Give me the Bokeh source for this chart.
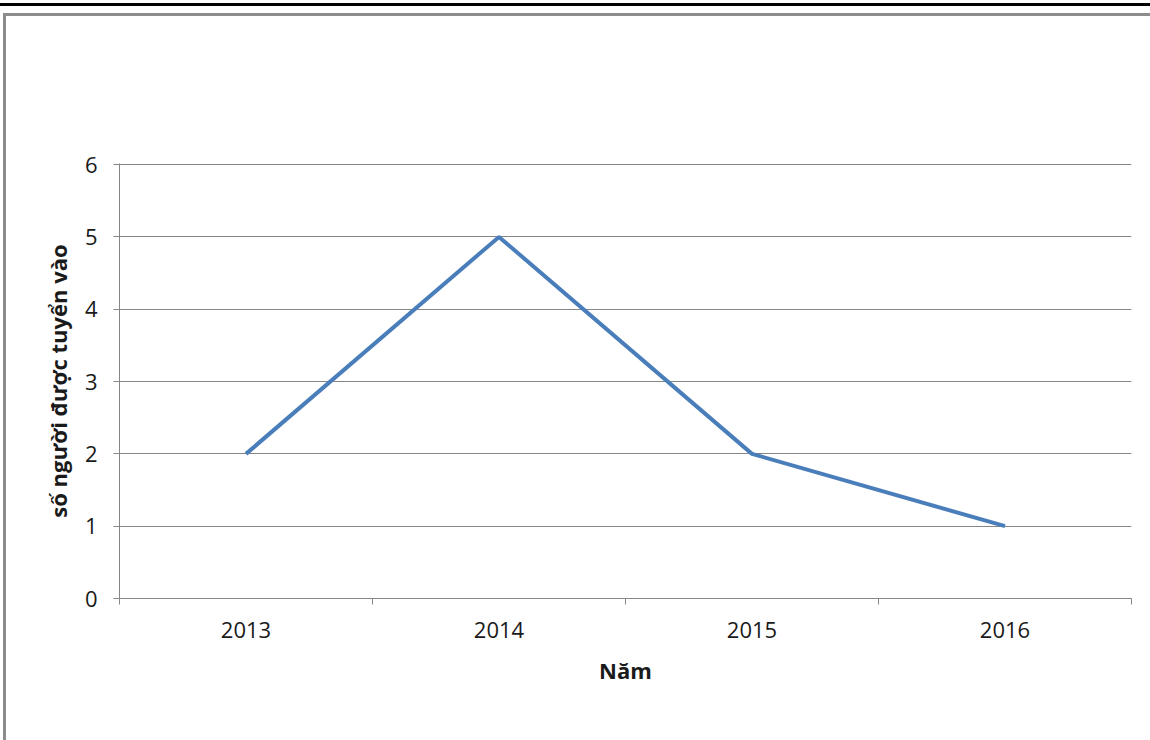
from bokeh.plotting import figure
from bokeh.models import LinearAxis, FixedTicker, Range1d, InlineStyleSheet
from bokeh.embed import file_html
from bokeh.resources import INLINE

# ---- data ----
years = ["2013", "2014", "2015", "2016"]
hired = [2, 5, 2, 1]
y_ticks = [0, 1, 2, 3, 4, 5, 6]
x_title = "Năm"
y_title = "số người được tuyển vào"

FONT = "Open Sans"
TXT = "#1a1a1a"
GREY = "#868686"
LINE = "#4a7ebb"

idx = list(range(len(years)))
xc = [i + 0.5 for i in idx]
bounds = list(range(len(years) + 1))

p = figure(width=1150, height=740, output_backend="svg", toolbar_location=None,
           x_range=Range1d(0, len(years)), y_range=Range1d(0, 6.015),
           x_axis_location=None,
           min_border_left=119, min_border_right=19,
           min_border_top=163, min_border_bottom=142)
p.outline_line_color = None
p.background_fill_color = "white"
p.border_fill_color = "white"

# y axis
ya = p.yaxis[0]
ya.ticker = FixedTicker(ticks=y_ticks)
ya.minor_tick_line_color = None
ya.major_tick_in = 0
ya.major_tick_out = 6
ya.axis_line_color = GREY
ya.major_tick_line_color = GREY
ya.major_label_text_font = FONT
ya.major_label_text_font_size = "22px"
ya.major_label_text_color = TXT
ya.major_label_standoff = 16
ya.axis_label = y_title
ya.axis_label_text_font = FONT
ya.axis_label_text_font_size = "22px"
ya.axis_label_text_font_style = "bold"
ya.axis_label_text_color = TXT
ya.axis_label_standoff = 9

p.ygrid.ticker = FixedTicker(ticks=y_ticks)
p.ygrid.grid_line_color = GREY
p.xgrid.visible = False

# x axis: boundary ticks
xa1 = LinearAxis(ticker=FixedTicker(ticks=bounds),
                 major_label_overrides={b: "" for b in bounds},
                 major_label_text_font_size="0px", major_label_standoff=0,
                 major_tick_in=0, major_tick_out=6,
                 axis_line_color=GREY, major_tick_line_color=GREY,
                 minor_tick_line_color=None)
# x axis: category labels
xa2 = LinearAxis(ticker=FixedTicker(ticks=xc),
                 major_label_overrides={xc[i]: years[i] for i in idx},
                 major_tick_in=0, major_tick_out=0,
                 axis_line_color=None, major_tick_line_color=None,
                 minor_tick_line_color=None,
                 major_label_text_font=FONT, major_label_text_font_size="22px",
                 major_label_text_color=TXT, major_label_standoff=17,
                 axis_label=x_title, axis_label_text_font=FONT,
                 axis_label_text_font_size="22px",
                 axis_label_text_font_style="bold",
                 axis_label_text_color=TXT, axis_label_standoff=14)
p.add_layout(xa1, "below")
p.add_layout(xa2, "below")

p.line(xc, hired, line_color=LINE, line_width=4)

# page decorations: black rule at top, grey chart border
p.stylesheets = [InlineStyleSheet(css="""
:host { position: relative; }
:host::before { content: ""; position: absolute; left: 0; top: 3px;
  width: 1150px; height: 3px; background: #000; z-index: 10; pointer-events: none; }
:host::after { content: ""; position: absolute; left: 3px; top: 13px;
  width: 1300px; height: 1000px; border-left: 3px solid #8c8c8c;
  border-top: 3px solid #8c8c8c; z-index: 10; pointer-events: none; }
""")]

open("out.html", "w").write(file_html(p, INLINE))
